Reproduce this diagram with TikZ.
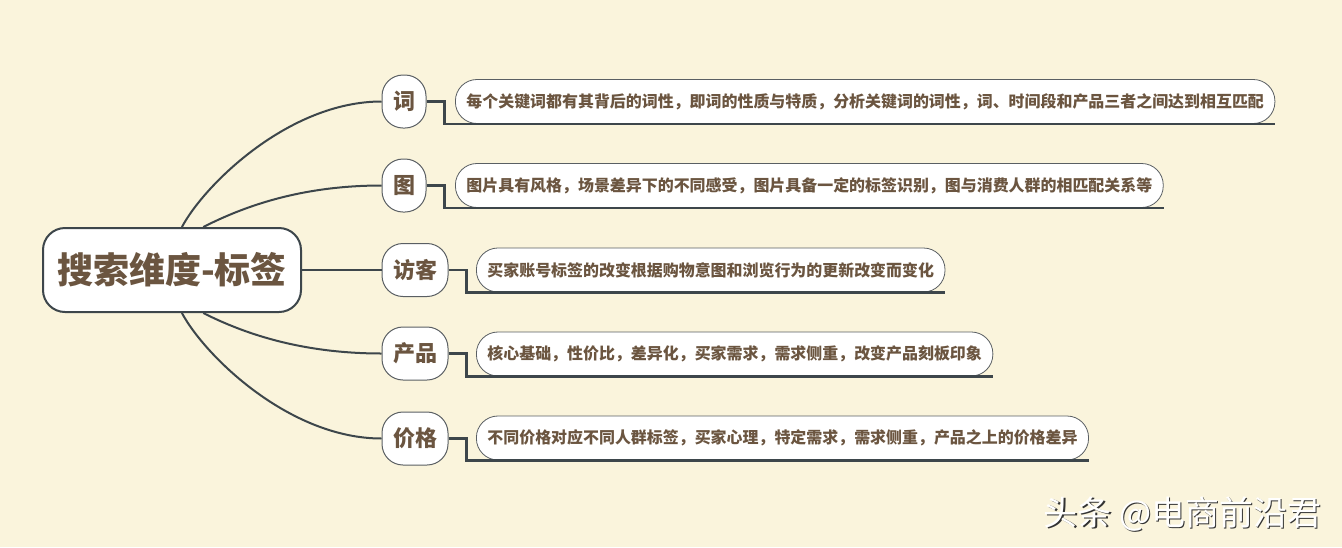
\documentclass[tikz,border=0pt]{standalone}
\usepackage{fontspec}
\setmainfont{Noto Sans CJK SC}
\definecolor{bg}{HTML}{FAF4DC}
\definecolor{txt}{HTML}{6B5540}
\definecolor{ln}{HTML}{3D464B}
\definecolor{lo}{HTML}{5A5F63}
\begin{document}
\begin{tikzpicture}[x=1pt,y=-1pt,
  rootbox/.style={draw=ln,line width=2pt,fill=white,rounded corners=22pt,minimum width=258pt,minimum height=84pt,inner sep=0pt,text=txt,font=\fontsize{36}{36}\selectfont\bfseries},
  brbox/.style={draw=lo,line width=1pt,fill=white,rounded corners=21pt,minimum width=44pt,minimum height=53pt,inner xsep=11pt,inner ysep=0pt,text=txt,font=\fontsize{22}{22}\selectfont\bfseries},
  leafbox/.style={draw=lo,line width=0.8pt,fill=white,rounded corners=21.5pt,minimum height=44pt,inner xsep=11pt,inner ysep=0pt,anchor=west,text=txt,font=\fontsize{15.95}{16}\selectfont\bfseries},
  conn/.style={draw=ln,line width=2pt},
  under/.style={draw=ln,line width=2.2pt}
]
\fill[bg] (0,0) rectangle (1342,547);
\useasboundingbox (0,0) rectangle (1342,547);

\node[rootbox] (root) at (172,270) {搜索维度-标签};
\node[brbox] (b1) at (404,101.5) {词};
\node[brbox] (b2) at (404,185.5) {图};
\node[brbox] (b3) at (415,270) {访客};
\node[brbox] (b4) at (415,353.5) {产品};
\node[brbox] (b5) at (415,438.5) {价格};

\draw[conn] (root.77) .. controls +(23,-43) and +(-92,0) .. (b1.west);
\draw[conn] (root.54.5) .. controls +(30,-15) and +(-90,0) .. (b2.west);
\draw[conn] (root.east) -- (b3.west);
\draw[conn] (root.-54.5) .. controls +(30,15) and +(-90,0) .. (b4.west);
\draw[conn] (root.-77) .. controls +(23,43) and +(-92,0) .. (b5.west);

\node[leafbox] (l1) at (455,101.5) {每个关键词都有其背后的词性，即词的性质与特质，分析关键词的词性，词、时间段和产品三者之间达到相互匹配};
\node[leafbox] (l2) at (455,185.5) {图片具有风格，场景差异下的不同感受，图片具备一定的标签识别，图与消费人群的相匹配关系等};
\node[leafbox] (l3) at (476,270) {买家账号标签的改变根据购物意图和浏览行为的更新改变而变化};
\node[leafbox] (l4) at (476,354) {核心基础，性价比，差异化，买家需求，需求侧重，改变产品刻板印象};
\node[leafbox] (l5) at (476,438) {不同价格对应不同人群标签，买家心理，特定需求，需求侧重，产品之上的价格差异};

\draw[under] (b1.east) -- ++(18,0) |- (l1.south east);
\draw[under] (b2.east) -- ++(18,0) |- (l2.south east);
\draw[under] (b3.east) -- ++(18,0) |- (l3.south east);
\draw[under] (b4.east) -- ++(18,0) |- (l4.south east);
\draw[under] (b5.east) -- ++(18,0) |- (l5.south east);

\node[anchor=east,text=black!80,font=\fontsize{34}{34}\selectfont] (wms) at (1326.5,515.5) {头条 @电商前沿君};
\node[anchor=east,text=white,font=\fontsize{34}{34}\selectfont] (wm) at (1325,514) {头条 @电商前沿君};
\end{tikzpicture}
\end{document}
